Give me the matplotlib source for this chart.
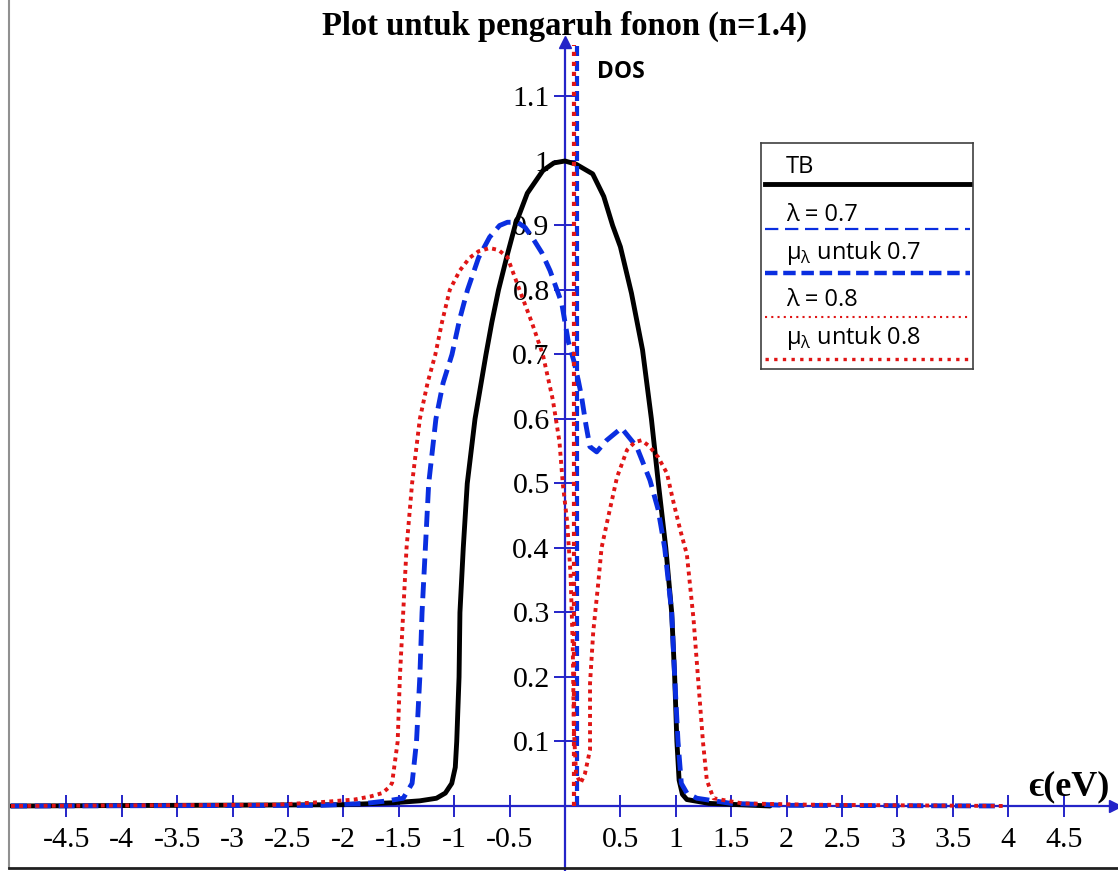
import matplotlib
matplotlib.use("Agg")
import matplotlib.pyplot as plt
from matplotlib.lines import Line2D

plt.rcParams['mathtext.fontset'] = 'custom'
plt.rcParams['mathtext.rm'] = 'Open Sans'

W, H = 1118, 871

# DOS tight-binding (TB)
tb_x = [-5.0, -2.0, -1.55, -1.31, -1.16, -1.08, -1.022, -0.99, -0.977, -0.956, -0.948,
        -0.918, -0.882, -0.812, -0.713, -0.66, -0.60, -0.52, -0.45, -0.34, -0.2, -0.1,
        0.0, 0.1, 0.25, 0.35, 0.43, 0.50, 0.60, 0.70, 0.78, 0.843, 0.91, 0.963, 0.99,
        1.01, 1.03, 1.06, 1.1, 1.3, 1.85]
tb_y = [0.0, 0.002, 0.005, 0.008, 0.012, 0.02, 0.035, 0.06, 0.1, 0.2, 0.3,
        0.4, 0.5, 0.6, 0.7, 0.75, 0.8, 0.855, 0.9, 0.95, 0.985, 0.997,
        1.0, 0.995, 0.98, 0.945, 0.9, 0.867, 0.795, 0.707, 0.6, 0.5, 0.4, 0.3, 0.2,
        0.1, 0.04, 0.018, 0.01, 0.004, 0.0]

# lambda = 0.7
l07_x = [-5.0, -2.2, -1.8, -1.6, -1.46, -1.38, -1.34, -1.31, -1.29, -1.26, -1.23,
         -1.165, -1.10, -1.02, -0.95, -0.88, -0.78, -0.68, -0.59, -0.52, -0.43, -0.36,
         -0.29, -0.21, -0.135, -0.03, 0.03, 0.08, 0.12, 0.15, 0.19, 0.225, 0.286,
         0.376, 0.51, 0.647, 0.767, 0.84, 0.90, 0.963, 0.99, 1.02, 1.05, 1.10, 1.19,
         1.5, 2.0, 3.95]
l07_y = [0.0, 0.001, 0.004, 0.008, 0.012, 0.035, 0.1, 0.2, 0.3, 0.4, 0.5,
         0.6, 0.656, 0.7, 0.755, 0.8, 0.85, 0.882, 0.9, 0.905, 0.905, 0.897,
         0.88, 0.858, 0.83, 0.78, 0.72, 0.69, 0.66, 0.634, 0.59, 0.557, 0.549,
         0.567, 0.586, 0.557, 0.505, 0.46, 0.40, 0.30, 0.2, 0.1, 0.035, 0.02, 0.012,
         0.004, 0.001, 0.0]

# lambda = 0.8
l08_x = [-5.0, -2.6, -2.2, -1.9, -1.75, -1.65, -1.58, -1.56, -1.51, -1.49, -1.46,
         -1.43, -1.38, -1.31, -1.24, -1.17, -1.11, -1.04, -0.95, -0.86, -0.78, -0.68,
         -0.60, -0.52, -0.41, -0.30, -0.2, -0.11, -0.05, -0.02, 0.02, 0.05, 0.07,
         0.08, 0.1, 0.14, 0.18, 0.226, 0.226, 0.255, 0.30, 0.33, 0.39, 0.47, 0.56,
         0.63, 0.69, 0.76, 0.84, 0.92, 0.975, 1.04, 1.1, 1.16, 1.2, 1.245, 1.28, 1.34,
         1.6, 2.2, 3.95]
l08_y = [0.0, 0.002, 0.006, 0.01, 0.015, 0.02, 0.03, 0.036, 0.1, 0.2, 0.3,
         0.4, 0.5, 0.6, 0.656, 0.7, 0.75, 0.8, 0.83, 0.85, 0.86, 0.865,
         0.862, 0.851, 0.8, 0.75, 0.70, 0.63, 0.565, 0.5, 0.44, 0.36, 0.25,
         0.12, 0.05, 0.035, 0.05, 0.087, 0.19, 0.27, 0.345, 0.40, 0.448, 0.51, 0.552,
         0.564, 0.567, 0.558, 0.541, 0.516, 0.474, 0.428, 0.39, 0.29, 0.2, 0.1, 0.04,
         0.012, 0.004, 0.002, 0.0]

# chemical potentials
mu07 = 0.11
mu08 = 0.08
mu_top = 1.18

x_ticks = [-4.5, -4, -3.5, -3, -2.5, -2, -1.5, -1, -0.5, 0.5, 1, 1.5, 2, 2.5, 3, 3.5, 4, 4.5]
x_labels = ['-4.5', '-4', '-3.5', '-3', '-2.5', '-2', '-1.5', '-1', '-0.5',
            '0.5', '1', '1.5', '2', '2.5', '3', '3.5', '4', '4.5']
y_ticks = [0.1, 0.2, 0.3, 0.4, 0.5, 0.6, 0.7, 0.8, 0.9, 1.0, 1.1]
y_labels = ['0.1', '0.2', '0.3', '0.4', '0.5', '0.6', '0.7', '0.8', '0.9', '1', '1.1']

AXC = '#2424c8'
BLUE = '#0a2ee0'
RED = '#e01515'
SERIF = ['Liberation Serif', 'DejaVu Serif']

fig = plt.figure(figsize=(W / 100, H / 100), dpi=100)
ax = fig.add_axes([0, 0, 1, 1])
ax.set_xlim(-5.099, 4.991)
ax.set_ylim(-0.1008, 1.2496)

ax.plot(tb_x, tb_y, color='black', lw=3.5, solid_capstyle='round',
        solid_joinstyle='round', zorder=3)
ax.plot(l07_x, l07_y, color=BLUE, lw=3.5, dashes=(3.3, 1.6), zorder=4)
ax.plot(l08_x, l08_y, color=RED, lw=2.8, dashes=(1, 1.1), zorder=5)
ax.plot([mu07, mu07], [0, mu_top], color=BLUE, lw=3, dashes=(2.4, 1.2), zorder=4)
ax.plot([mu08, mu08], [0, mu_top], color=RED, lw=3, dashes=(1, 1.4), zorder=5)

# axes crossing at the origin
for s in ['top', 'right']:
    ax.spines[s].set_visible(False)
ax.spines['left'].set_position(('data', 0))
ax.spines['bottom'].set_position(('data', 0))
ax.spines['left'].set_bounds(-0.1008, 1.18)
ax.spines['bottom'].set_bounds(-5.0, 4.95)
for s in ['left', 'bottom']:
    ax.spines[s].set_color(AXC)
    ax.spines[s].set_linewidth(1.6)
    ax.spines[s].set_zorder(2)
ax.plot([4.96], [0], marker='>', color=AXC, ms=9, clip_on=False, zorder=2)
ax.plot([0], [1.185], marker='^', color=AXC, ms=9, clip_on=False, zorder=2)

ax.set_xticks(x_ticks)
ax.set_xticklabels(x_labels, family=SERIF, fontsize=21.5)
ax.set_yticks(y_ticks)
ax.set_yticklabels(y_labels, family=SERIF, fontsize=21.5)
ax.tick_params(axis='x', direction='inout', length=16, width=1.4, color=AXC, pad=7)
ax.tick_params(axis='y', direction='inout', length=16, width=1.4, color=AXC, pad=3)
ax.patch.set_alpha(0)

fig.text(565 / W, 1 - 35 / H, 'Plot untuk pengaruh fonon (n=1.4)', ha='center',
         va='baseline', family=SERIF, fontweight='bold', fontsize=23.5)
fig.text(597 / W, 1 - 78 / H, 'DOS', ha='left', va='baseline',
         family=['Open Sans', 'DejaVu Sans'], fontweight='bold', fontsize=16.5)
fig.text(1069 / W, 1 - 795 / H, 'ϵ(eV)', ha='center', va='baseline',
         family=SERIF, fontweight='bold', fontsize=26)

# frame edges
fig.add_artist(Line2D([9 / W, 9 / W], [1 - 868 / H, 1], transform=fig.transFigure,
                      color='#909090', lw=1.5))
fig.add_artist(Line2D([9 / W, 1], [1 - 868 / H, 1 - 868 / H], transform=fig.transFigure,
                      color='#202020', lw=2))

# legend box
lax = fig.add_axes([761 / W, 1 - 369 / H, 212 / W, 226 / H])
lax.set_xlim(0, 212)
lax.set_ylim(226, 0)
lax.set_xticks([])
lax.set_yticks([])
for s in lax.spines.values():
    s.set_color('#404040')
    s.set_linewidth(1.2)

leg_font = ['Open Sans', 'DejaVu Sans']
entries = [
    ('TB', 24, 41, dict(color='black', lw=3.5)),
    ('λ = 0.7', 72, 86, dict(color=BLUE, lw=1.6, dashes=(6, 3))),
    (r'$\mathrm{μ}_{\mathrm{λ}}$ untuk 0.7', 110, 130, dict(color=BLUE, lw=3.2, dashes=(2.8, 1.3))),
    ('λ = 0.8', 157, 174, dict(color=RED, lw=1.5, dashes=(1, 2))),
    (r'$\mathrm{μ}_{\mathrm{λ}}$ untuk 0.8', 195, 216, dict(color=RED, lw=2.4, dashes=(1, 1.6))),
]
for label, ty, ly, style in entries:
    lax.text(25, ty, label, ha='left', va='center', family=leg_font, fontsize=17)
    lax.plot([4, 209], [ly, ly], **style)

fig.savefig('out.png', dpi=100)
